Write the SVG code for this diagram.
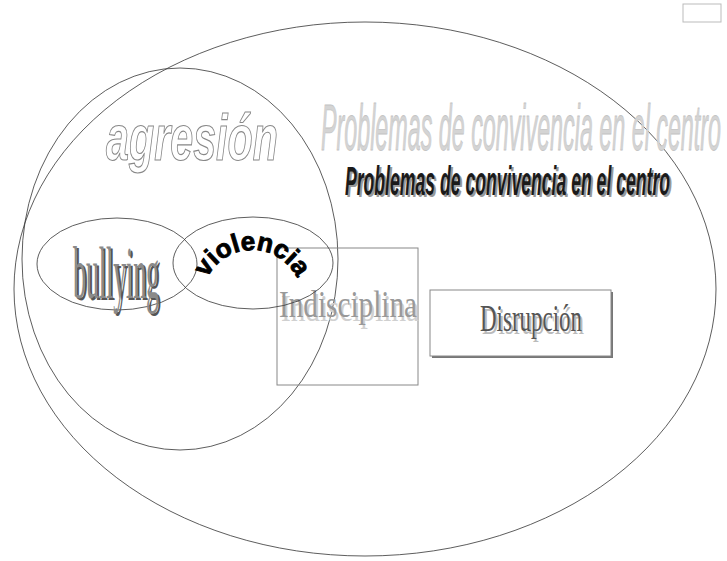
<svg xmlns="http://www.w3.org/2000/svg" width="727" height="561" viewBox="0 0 727 561">
<style>
.ln{fill:none;stroke:#333;stroke-width:0.8}
.box{fill:none;stroke:#888;stroke-width:1}
.serif{font-family:"Liberation Serif","DejaVu Serif",serif}
.sans{font-family:"Liberation Sans","DejaVu Sans",sans-serif}
</style>
<defs>
<path id="arcV" d="M 202 300 A 50 50 0 0 1 302 300"/>
</defs>
<rect width="727" height="561" fill="#fff"/>
<g id="top-rect"><rect x="683" y="4" width="38" height="18" fill="#fff" stroke="#bbb" stroke-width="1"/></g>
<g id="problemas">
<ellipse class="ln" cx="365" cy="289" rx="351" ry="267"/>
<text class="sans" x="321" y="150" font-size="64" font-style="italic" textLength="400" lengthAdjust="spacingAndGlyphs" fill="#d4d4d4" stroke="#c4c4c4" stroke-width="0.8">Problemas de convivencia en el centro</text>
<text class="sans" x="347" y="197" font-size="40" font-style="italic" font-weight="bold" textLength="325" lengthAdjust="spacingAndGlyphs" fill="#999">Problemas de convivencia en el centro</text>
<text class="sans" x="345" y="195" font-size="40" font-style="italic" font-weight="bold" textLength="325" lengthAdjust="spacingAndGlyphs" fill="#1a1a1a">Problemas de convivencia en el centro</text>
</g>
<g id="agresion">
<ellipse class="ln" cx="180" cy="259" rx="158" ry="191"/>
<text class="sans" x="106" y="160" font-size="64" font-style="italic" font-weight="bold" textLength="172" lengthAdjust="spacingAndGlyphs" fill="#fff" stroke="#888" stroke-width="1.2">agresión</text>
</g>
<g id="bullying">
<ellipse class="ln" cx="117" cy="264" rx="80" ry="46"/>
<text class="serif" x="75" y="300" font-size="74" textLength="86" lengthAdjust="spacingAndGlyphs" fill="#555">bullying</text>
<text class="serif" x="73" y="298" font-size="74" textLength="86" lengthAdjust="spacingAndGlyphs" fill="#8a8a8a">bullying</text>
</g>
<g id="indisciplina">
<rect class="box" x="277" y="248" width="141" height="137"/>
<text class="serif" x="281" y="321" font-size="38" textLength="138" lengthAdjust="spacingAndGlyphs" fill="#d0d0d0">Indisciplina</text>
<text class="serif" x="279" y="317" font-size="38" textLength="138" lengthAdjust="spacingAndGlyphs" fill="#999">Indisciplina</text>
</g>
<g id="violencia">
<ellipse class="ln" cx="253" cy="263" rx="80" ry="46"/>
<text class="sans" font-size="26" font-weight="900" fill="#000" stroke="#000" stroke-width="0.9"><textPath href="#arcV" startOffset="50%" text-anchor="middle">violencia</textPath></text>
</g>
<g id="disrupcion">
<rect x="432" y="292" width="181" height="66" fill="#777"/>
<rect x="430" y="290" width="181" height="66" fill="#fff" stroke="#888" stroke-width="1"/>
<text class="serif" x="482" y="334" font-size="38" textLength="102" lengthAdjust="spacingAndGlyphs" fill="#bbb">Disrupción</text>
<text class="serif" x="480" y="331" font-size="38" textLength="102" lengthAdjust="spacingAndGlyphs" fill="#555">Disrupción</text>
</g>
</svg>
